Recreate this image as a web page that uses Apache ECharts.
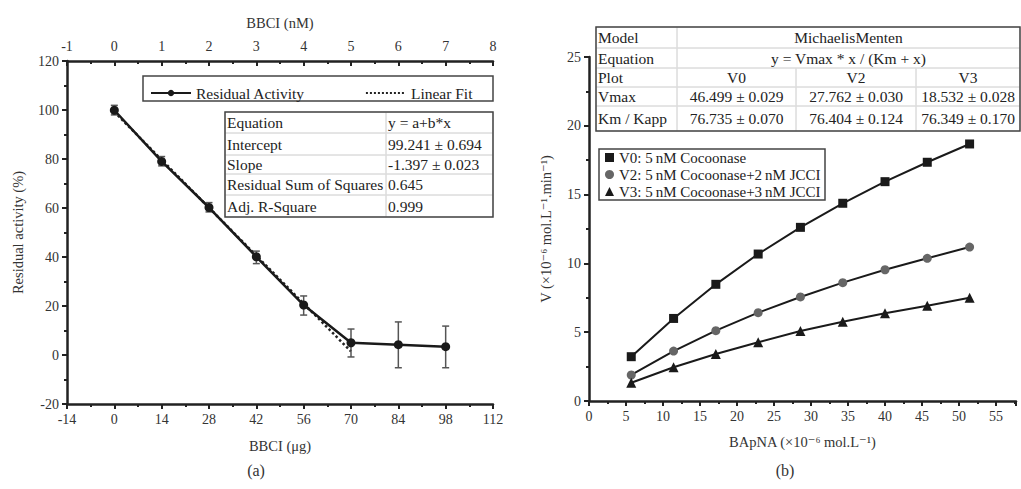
<!DOCTYPE html>
<html>
<head>
<meta charset="utf-8">
<script src="https://cdn.jsdelivr.net/npm/echarts@6/dist/echarts.min.js"></script>
<style>
  html, body { margin: 0; padding: 0; background: #fff; }
  #main { width: 1021px; height: 489px; }
</style>
</head>
<body>
<div id="main"></div>
<script>
var myChart = echarts.init(document.getElementById('main'), null, { renderer: 'svg' });
var FONT = '"Liberation Serif", "DejaVu Serif", serif';

// panel (a): residual activity vs BBCI
var bbciUg = [0, 14, 28, 42, 56, 70, 84, 98];
var residual = [99.9, 79.0, 60.2, 40.1, 20.4, 5.0, 4.2, 3.4];
var errLow = [98.0, 77.2, 58.4, 37.3, 16.3, -0.8, -5.2, -5.2];
var errHigh = [101.9, 81.0, 62.2, 42.4, 24.1, 10.6, 13.5, 11.8];
var fitX = [0, 70];
var fitY = [99.241, 1.451];
var tableA = [
    ['Equation', 'y = a+b*x'],
    ['Intercept', '99.241 ± 0.694'],
    ['Slope', '-1.397 ± 0.023'],
    ['Residual Sum of Squares', '0.645'],
    ['Adj. R-Square', '0.999']
];

// panel (b): Michaelis-Menten curves
var bapna = [5.71, 11.43, 17.14, 22.86, 28.57, 34.29, 40, 45.71, 51.43];
var v0 = [3.22, 6.0, 8.48, 10.68, 12.62, 14.37, 15.94, 17.35, 18.68];
var v2 = [1.89, 3.63, 5.11, 6.42, 7.56, 8.6, 9.54, 10.37, 11.19];
var v3 = [1.33, 2.45, 3.42, 4.27, 5.09, 5.76, 6.37, 6.93, 7.51];
var seriesNamesB = ['V0: 5\u2009nM Cocoonase', 'V2: 5\u2009nM Cocoonase+2\u2009nM JCCI', 'V3: 5\u2009nM Cocoonase+3\u2009nM JCCI'];
var tableB = [
    ['Model', 'MichaelisMenten'],
    ['Equation', 'y = Vmax * x / (Km + x)'],
    ['Plot', 'V0', 'V2', 'V3'],
    ['Vmax', '46.499 ± 0.029', '27.762 ± 0.030', '18.532 ± 0.028'],
    ['Km / Kapp', '76.735 ± 0.070', '76.404 ± 0.124', '76.349 ± 0.170']
];

function pairs(xs, ys) {
    return xs.map(function (x, i) { return [x, ys[i]]; });
}

// a table drawn from cell boxes; spanned rows have 2 entries
function makeTable(x0, colX, rowY, rows, firstAlign, valueAlign) {
    var els = [];
    var x1 = colX[colX.length - 1];
    for (var r = 0; r < rows.length; r++) {
        var yTop = rowY[r], yBot = rowY[r + 1];
        var row = rows[r];
        var cells = [];
        cells.push([x0, colX[0], row[0], firstAlign]);
        if (row.length === 2) {
            cells.push([colX[0], x1, row[1], valueAlign]);
        } else {
            for (var c = 1; c < row.length; c++) {
                cells.push([colX[c - 1], colX[c], row[c], valueAlign]);
            }
        }
        cells.forEach(function (cell) {
            var tx = cell[3] === 'center' ? (cell[0] + cell[1]) / 2 : cell[0] + 2;
            els.push({
                type: 'rect',
                shape: { x: cell[0], y: yTop, width: cell[1] - cell[0], height: yBot - yTop },
                style: { fill: 'none', stroke: '#dcdcdc', lineWidth: 1 }
            });
            els.push({
                type: 'text', x: tx, y: (yTop + yBot) / 2,
                style: {
                    text: cell[2], fontFamily: FONT, fontSize: 15.5, fill: '#222',
                    align: cell[3], verticalAlign: 'middle'
                }
            });
        });
    }
    els.push({
        type: 'rect',
        shape: { x: x0, y: rowY[0], width: x1 - x0, height: rowY[rowY.length - 1] - rowY[0] },
        style: { fill: 'none', stroke: '#444', lineWidth: 1.5 }
    });
    return els;
}

var axisText = { color: '#333', fontFamily: FONT, fontSize: 14 };
var nameText = { color: '#333', fontFamily: FONT, fontSize: 14.5 };
var axLine = { show: true, onZero: false, lineStyle: { color: '#222', width: 2.5 } };
var tick = { show: true, length: 5, lineStyle: { width: 2, color: '#222' } };
var minor = { show: true, splitNumber: 2, length: 3, lineStyle: { width: 2, color: '#222' } };

var graphics = []
    .concat(makeTable(225, [386, 493], [112, 133, 155, 174, 195, 217], tableA, 'left', 'left'))
    .concat(makeTable(596, [677, 796, 916, 1020], [27, 48, 68, 87, 106, 131], tableB, 'left', 'center'));
graphics.push({ type: 'rect', shape: { x: 143, y: 76, width: 350, height: 25 },
    style: { fill: 'none', stroke: '#444', lineWidth: 1.5 } });
graphics.push({ type: 'rect', shape: { x: 599, y: 149, width: 226, height: 51 },
    style: { fill: 'none', stroke: '#444', lineWidth: 1.5 } });
graphics.push({ type: 'text', x: 256, y: 470, style: { text: '(a)', fontFamily: FONT, fontSize: 16, fill: '#333', align: 'center', verticalAlign: 'middle' } });
graphics.push({ type: 'text', x: 785, y: 470, style: { text: '(b)', fontFamily: FONT, fontSize: 16, fill: '#333', align: 'center', verticalAlign: 'middle' } });

var option = {
    animation: false,
    backgroundColor: '#fff',
    textStyle: { fontFamily: FONT },
    grid: [
        { left: 67, top: 61, width: 426, height: 343 },
        { left: 589, top: 57, width: 427, height: 344 }
    ],
    legend: [{
        data: ['Residual Activity', { name: 'Linear Fit', itemStyle: { opacity: 0 } }],
        left: 145, top: 80, itemGap: 60, itemWidth: 40, itemHeight: 8,
        textStyle: { fontFamily: FONT, fontSize: 15.5, color: '#222' }
    }, {
        data: seriesNamesB.map(function (n, i) {
            return { name: n, icon: ['rect', 'circle', 'triangle'][i] };
        }),
        orient: 'vertical', left: 605, top: 150, itemGap: 2, padding: 0,
        itemWidth: 9, itemHeight: 9,
        textStyle: { fontFamily: FONT, fontSize: 15, color: '#222', lineHeight: 15 }
    }],
    xAxis: [{
        gridIndex: 0, type: 'value', position: 'bottom',
        min: -14, max: 112, interval: 14,
        name: 'BBCI (μg)', nameLocation: 'middle', nameGap: 34, nameTextStyle: nameText,
        axisLine: axLine, axisTick: tick, minorTick: minor,
        axisLabel: axisText, splitLine: { show: false }
    }, {
        gridIndex: 0, type: 'value', position: 'top',
        min: -1, max: 8, interval: 1,
        name: 'BBCI (nM)', nameLocation: 'middle', nameGap: 31, nameTextStyle: nameText,
        axisLine: axLine,
        axisTick: Object.assign({}, tick, { inside: true }),
        minorTick: minor,
        axisLabel: axisText, splitLine: { show: false }
    }, {
        gridIndex: 1, type: 'value', position: 'bottom',
        min: 0, max: 57.7, interval: 5,
        name: 'BApNA (×10⁻⁶ mol.L⁻¹)', nameLocation: 'middle', nameGap: 33, nameTextStyle: nameText,
        axisLine: axLine, axisTick: tick, minorTick: minor,
        axisLabel: Object.assign({ showMaxLabel: false }, axisText),
        splitLine: { show: false }
    }],
    yAxis: [{
        gridIndex: 0, type: 'value',
        min: -20, max: 120, interval: 20,
        name: 'Residual activity (%)', nameLocation: 'middle', nameGap: 42, nameTextStyle: nameText,
        axisLine: axLine, axisTick: tick, minorTick: minor,
        axisLabel: axisText, splitLine: { show: false }
    }, {
        gridIndex: 1, type: 'value',
        min: 0, max: 25, interval: 5,
        name: 'V (×10⁻⁶ mol.L⁻¹.min⁻¹)', nameLocation: 'middle', nameGap: 36, nameTextStyle: nameText,
        axisLine: axLine, axisTick: tick, minorTick: minor,
        axisLabel: axisText, splitLine: { show: false }
    }],
    series: [{
        name: 'Linear Fit', type: 'line', xAxisIndex: 0, yAxisIndex: 0,
        data: pairs(fitX, fitY), symbol: 'none', z: 1,
        lineStyle: { type: 'dotted', width: 2.5, color: '#222' },
        itemStyle: { color: '#222' }
    }, {
        name: 'errors', type: 'custom', xAxisIndex: 0, yAxisIndex: 0, z: 2,
        data: bbciUg.map(function (x, i) { return [x, errLow[i], errHigh[i]]; }),
        renderItem: function (params, api) {
            var lo = api.coord([api.value(0), api.value(1)]);
            var hi = api.coord([api.value(0), api.value(2)]);
            var w = 3.5;
            var st = { stroke: '#555', lineWidth: 1.5 };
            return { type: 'group', children: [
                { type: 'line', shape: { x1: lo[0], y1: lo[1], x2: hi[0], y2: hi[1] }, style: st },
                { type: 'line', shape: { x1: lo[0] - w, y1: lo[1], x2: lo[0] + w, y2: lo[1] }, style: st },
                { type: 'line', shape: { x1: hi[0] - w, y1: hi[1], x2: hi[0] + w, y2: hi[1] }, style: st }
            ] };
        }
    }, {
        name: 'Residual Activity', type: 'line', xAxisIndex: 0, yAxisIndex: 0, z: 3,
        data: pairs(bbciUg, residual), symbol: 'circle', symbolSize: 9,
        lineStyle: { width: 2.5, color: '#1a1a1a' }, itemStyle: { color: '#1a1a1a' }
    }, {
        name: seriesNamesB[0], type: 'line', xAxisIndex: 2, yAxisIndex: 1,
        data: pairs(bapna, v0), symbol: 'rect', symbolSize: 9,
        lineStyle: { width: 2, color: '#1a1a1a' }, itemStyle: { color: '#1a1a1a' }
    }, {
        name: seriesNamesB[1], type: 'line', xAxisIndex: 2, yAxisIndex: 1,
        data: pairs(bapna, v2), symbol: 'circle', symbolSize: 9,
        lineStyle: { width: 2, color: '#1a1a1a' }, itemStyle: { color: '#666' }
    }, {
        name: seriesNamesB[2], type: 'line', xAxisIndex: 2, yAxisIndex: 1,
        data: pairs(bapna, v3), symbol: 'triangle', symbolSize: 10,
        lineStyle: { width: 2, color: '#1a1a1a' }, itemStyle: { color: '#1a1a1a' }
    }],
    graphic: graphics
};
myChart.setOption(option);
</script>
</body>
</html>
